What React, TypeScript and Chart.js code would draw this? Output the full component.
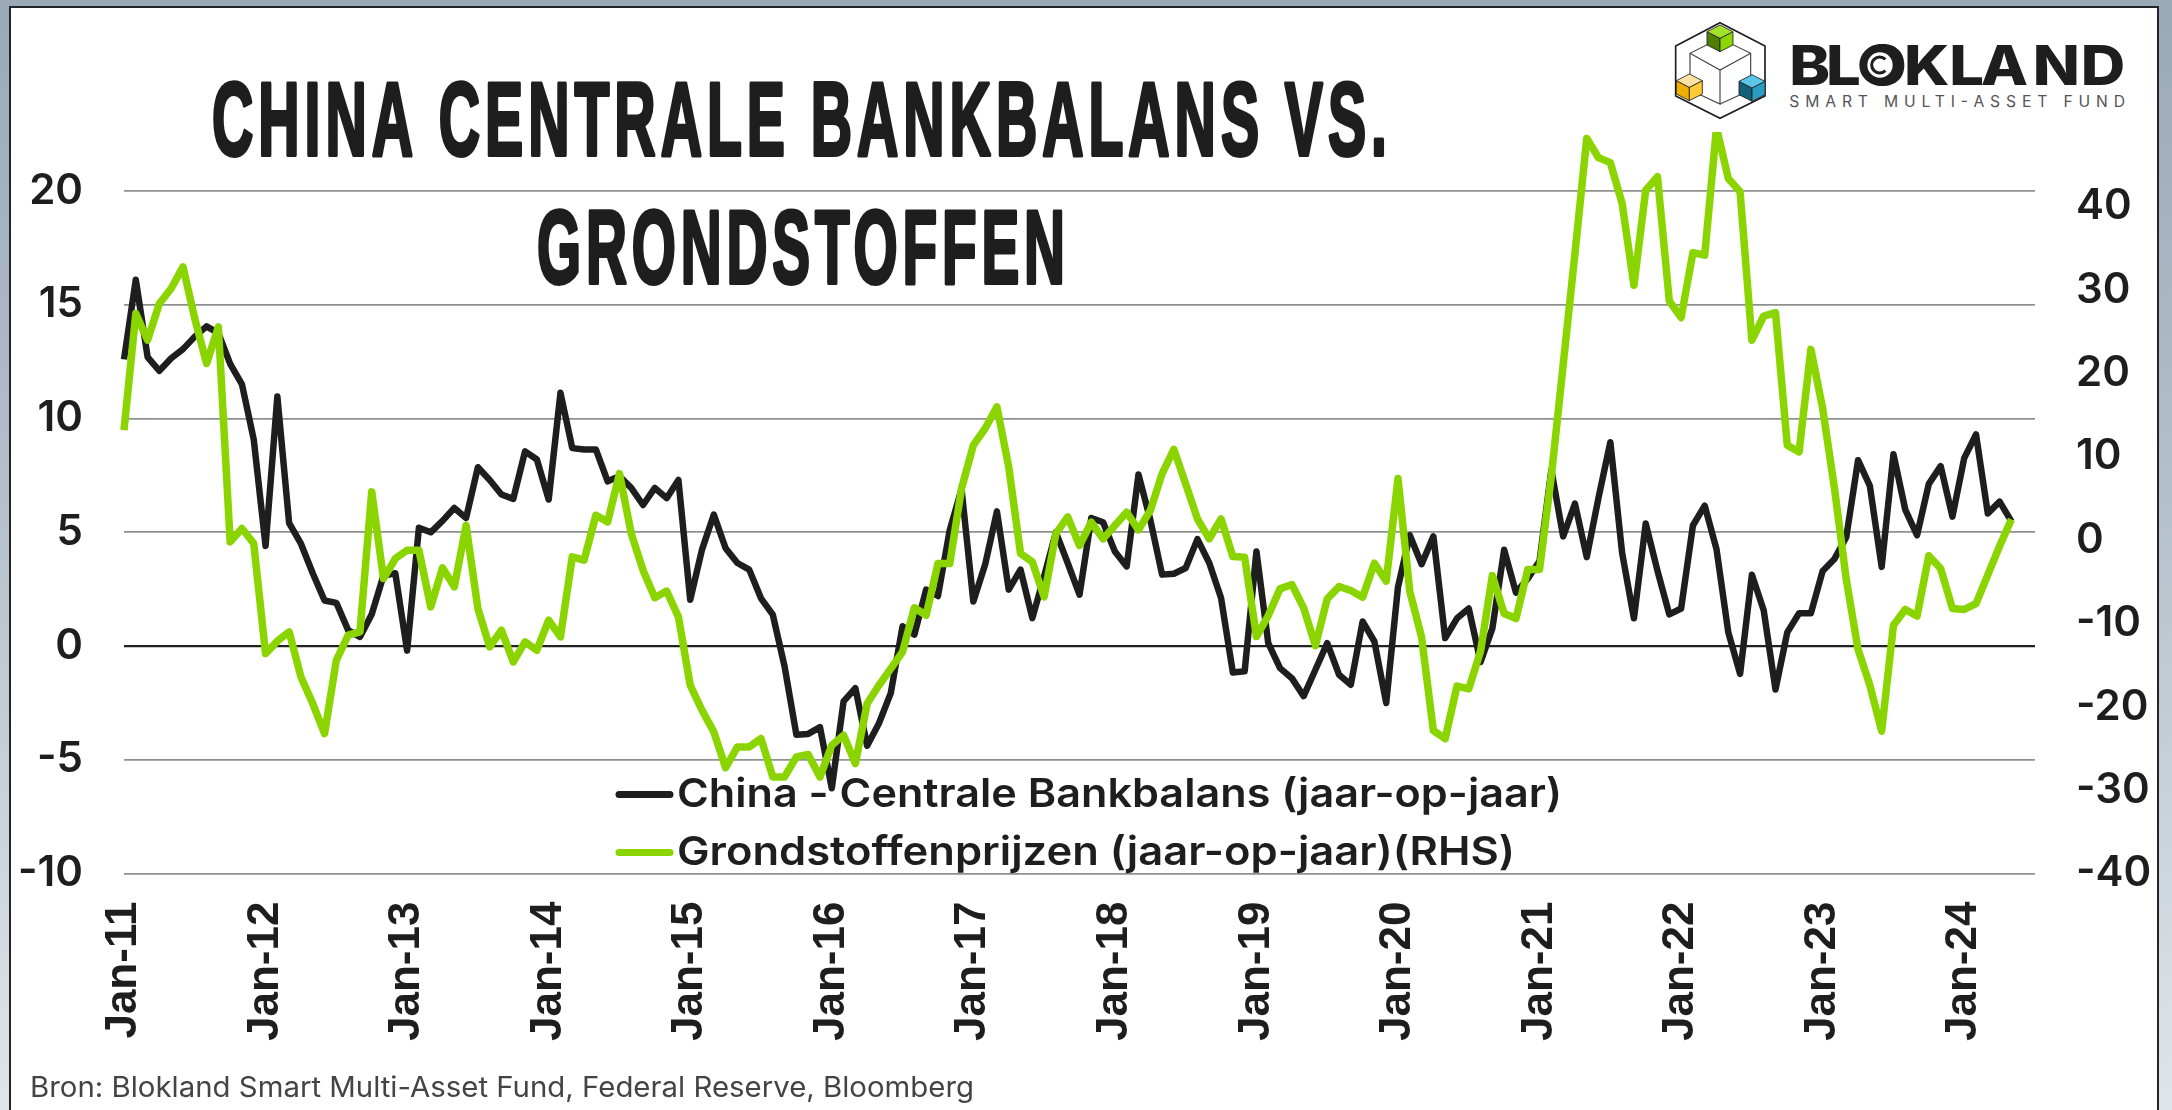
import React, { useEffect, useRef } from "react";
import { Chart, registerables } from "chart.js";

Chart.register(...registerables);

const monthNames = ["Jan", "Feb", "Mar", "Apr", "May", "Jun", "Jul", "Aug", "Sep", "Oct", "Nov", "Dec"];
const years = ["11", "12", "13", "14", "15", "16", "17", "18", "19", "20", "21", "22", "23", "24"];
const categories: string[] = years.flatMap((y) => monthNames.map((m) => `${m}-${y}`)).slice(0, 163);

const TITLE_LINES = ["CHINA CENTRALE BANKBALANS VS.", "GRONDSTOFFEN"];
const SOURCE = "Bron: Blokland Smart Multi-Asset Fund, Federal Reserve, Bloomberg";
const LABEL_BALANCE = "China - Centrale Bankbalans (jaar-op-jaar)";
const LABEL_COMMODITIES = "Grondstoffenprijzen (jaar-op-jaar)(RHS)";

const centralBankBalance: number[] = [
  12.6, 16.1, 12.7, 12.1, 12.65, 13.05, 13.6, 14.05, 13.75, 12.4, 11.5, 9.07,
  4.4, 10.97, 5.4, 4.5, 3.2, 2.0, 1.9, 0.7, 0.4, 1.4, 3.1, 3.2,
  -0.2, 5.2, 5.0, 5.5, 6.07, 5.63, 7.86, 7.3, 6.66, 6.47, 8.56, 8.2,
  6.44, 11.13, 8.7, 8.64, 8.64, 7.24, 7.46, 6.95, 6.2, 6.95, 6.5, 7.3,
  2.04, 4.24, 5.78, 4.3, 3.65, 3.36, 2.1, 1.38, -0.9, -3.9, -3.86, -3.56,
  -6.25, -2.43, -1.85, -4.38, -3.39, -2.07, 0.87, 0.5, 2.48, 2.2, 5.1, 6.9,
  1.96, 3.58, 5.92, 2.48, 3.36, 1.23, 3.06, 5.0, 3.65, 2.26, 5.63, 5.44,
  4.16, 3.5, 7.54, 5.56, 3.14, 3.18, 3.43, 4.7, 3.65, 2.11, -1.16, -1.11,
  4.16, 0.13, -0.97, -1.41, -2.2, -1.04, 0.13, -1.26, -1.7, 1.08, 0.2, -2.5,
  2.6, 4.87, 3.6, 4.82, 0.35, 1.22, 1.65, -0.7, 0.78, 4.23, 2.35, 2.96,
  3.74, 7.74, 4.82, 6.26, 3.91, 6.52, 8.96, 4.09, 1.22, 5.39, 3.3, 1.39,
  1.65, 5.3, 6.17, 4.26, 0.6, -1.22, 3.13, 1.57, -1.91, 0.6, 1.44, 1.44,
  3.3, 3.83, 4.78, 8.17, 7.04, 3.48, 8.43, 6.0, 4.87, 7.13, 7.91, 5.69,
  8.26, 9.3, 5.83, 6.35, 5.48,
];

const commodityPrices: number[] = [
  13.2, 27.2, 24, 28.4, 30.2, 32.8, 26.6, 21.2, 25.6, -0.2, 1.4, -0.4,
  -13.6, -12.1, -11, -16.4, -19.6, -23.2, -14.4, -11.4, -11, 5.8, -4.6, -2.2,
  -1.2, -1.2, -8, -3.3, -5.6, 1.76, -8.2, -12.8, -10.8, -14.6, -12.2, -13.2,
  -9.6, -11.6, -2, -2.4, 3, 2.2, 8, 0.8, -3.6, -6.9, -6.1, -9.2,
  -17.4, -20.4, -23, -27.3, -24.8, -24.8, -23.8, -28.4, -28.4, -26, -25.7, -28.4,
  -24.6, -23.4, -26.8, -19.6, -17.4, -15.4, -13.4, -8.1, -9, -2.8, -2.8, 6.2,
  11.4, 13.4, 16, 8.8, -1.6, -2.6, -6.8, 0.8, 2.8, -0.64, 2.16, 0.16,
  1.76, 3.36, 1.24, 3.56, 7.96, 10.9, 6.76, 2.56, 0.16, 2.56, -1.96, -2.04,
  -11.56, -9.04, -5.84, -5.32, -8.12, -12.64, -7.04, -5.56, -6.04, -6.84, -2.76, -4.92,
  7.4, -6.15, -11.64, -22.85, -23.8, -17.5, -17.84, -13.3, -4.25, -8.8, -9.4, -3.5,
  -3.5, 7.7, 21, 34.4, 48.2, 45.9, 45.3, 40.4, 30.6, 42, 43.6, 28.7,
  26.7, 34.5, 34.2, 49.5, 43.4, 41.8, 24, 26.9, 27.3, 11.4, 10.6, 22.9,
  15.8, 6.25, -4.7, -13.1, -17.4, -22.9, -10.2, -8.3, -9.1, -1.86, -3.4, -8.2,
  -8.3, -7.6, -4.15, -0.7, 2.5,
];

const INK = "#1e1e1e";
const GREEN = "#8ad500";

function fitted(
  ctx: CanvasRenderingContext2D,
  text: string,
  x: number,
  y: number,
  width: number,
  font: string,
  color: string,
  stroke = 0,
  spacing = 0,
) {
  ctx.save();
  ctx.font = font;
  (ctx as any).letterSpacing = `${spacing}px`;
  ctx.textAlign = "left";
  ctx.textBaseline = "alphabetic";
  const w = ctx.measureText(text).width - spacing;
  ctx.translate(x, y);
  ctx.scale(width / w, 1);
  ctx.fillStyle = color;
  ctx.fillText(text, 0, 0);
  if (stroke > 0) {
    ctx.strokeStyle = color;
    ctx.lineWidth = stroke;
    ctx.lineJoin = "round";
    ctx.strokeText(text, 0, 0);
  }
  ctx.restore();
}

const annotations = {
  id: "annotations",
  afterDraw(chart: any) {
    const ctx = chart.ctx as CanvasRenderingContext2D;
    // Title
    const titleFont = "bold 104px 'Liberation Sans'";
    fitted(ctx, TITLE_LINES[0], 212, 155, 1175, titleFont, INK, 4, 9);
    fitted(ctx, TITLE_LINES[1], 537, 283, 528, titleFont, INK, 4, 9);
    // Legend
    const rows = [
      { ds: chart.data.datasets[0], lineY: 794.5, base: 807, w: 885 },
      { ds: chart.data.datasets[1], lineY: 852.5, base: 865, w: 838 },
    ];
    for (const r of rows) {
      ctx.save();
      ctx.strokeStyle = r.ds.borderColor;
      ctx.lineWidth = 7;
      ctx.lineCap = "round";
      ctx.beginPath();
      ctx.moveTo(619, r.lineY);
      ctx.lineTo(670, r.lineY);
      ctx.stroke();
      ctx.restore();
      fitted(ctx, r.ds.label, 677, r.base, r.w, "600 40px Inter", INK);
    }
    // Source
    fitted(ctx, SOURCE, 30, 1097, 944, "400 28px Inter", "#444444");
  },
};

function Logo() {
  const cube = (cx: number, top: number, c: string[]) => {
    const hw = 39;
    const d = 20;
    const h = 40;
    return (
      <g stroke="#1e1e1e" strokeWidth={2.5} strokeLinejoin="round">
        <polygon points={`${cx - hw},${top + d} ${cx},${top + 2 * d} ${cx},${top + 2 * d + h} ${cx - hw},${top + d + h}`} fill={c[1]} />
        <polygon points={`${cx + hw},${top + d} ${cx},${top + 2 * d} ${cx},${top + 2 * d + h} ${cx + hw},${top + d + h}`} fill={c[2]} />
        <polygon points={`${cx},${top} ${cx + hw},${top + d} ${cx},${top + 2 * d} ${cx - hw},${top + d}`} fill={c[0]} />
      </g>
    );
  };
  const wide = 1.12;
  const glyphX = [388, 498, 598, 732, 868, 962, 1118, 1262].map((v) => (v / wide).toFixed(1)).join(" ");
  return (
    <svg width={2172} height={1110} style={{ position: "absolute", left: 0, top: 0, pointerEvents: "none" }}>
      <rect x={1668} y={10} width={470} height={122} fill="#ffffff" />
      <g transform="translate(1660 10) scale(0.33333)">
        <polygon points="180,38 315,108 315,258 180,325 47,258 47,108" fill="#ffffff" stroke="#1e1e1e" strokeWidth={5} />
        <g fill="none" stroke="#444444" strokeWidth={3.5}>
          <polyline points="90,205 90,130 180,85 272,130 272,205" />
          <polyline points="90,130 180,180 272,130" />
          <polyline points="180,180 180,282 90,240" />
          <line x1={180} y1={282} x2={272} y2={240} />
        </g>
        {cube(180, 45, ["#a3e22a", "#4e7f00", "#8cd600"])}
        {cube(88, 192, ["#ffe2a3", "#f0ae00", "#ffca33"])}
        {cube(276, 194, ["#5cc6e8", "#155f79", "#2b9dc5"])}
        <g transform={`scale(${wide} 1)`}>
          <text x={glyphX} y={225} fontFamily="Inter" fontWeight={800} fontSize={165} fill="#1e1e1e">
            BLOKLAND
          </text>
        </g>
        <circle cx={660} cy={165} r={50} fill="#ffffff" stroke="#1e1e1e" strokeWidth={24} />
        <path d="M 676 148 A 24 24 0 1 0 676 182" fill="none" stroke="#1e1e1e" strokeWidth={9} />
        <text x={388} y={292} fontFamily="Inter" fontWeight={400} fontSize={47} fill="#555555" textLength={1007} lengthAdjust="spacing">
          SMART MULTI-ASSET FUND
        </text>
      </g>
    </svg>
  );
}

export default function App() {
  const ref = useRef<HTMLCanvasElement | null>(null);
  useEffect(() => {
    if (!ref.current) return;
    const tickFont = { family: "Inter", weight: "600", size: 42 };
    const chart = new Chart(ref.current, {
      type: "line",
      data: {
        labels: categories,
        datasets: [
          {
            label: LABEL_BALANCE,
            data: centralBankBalance,
            borderColor: INK,
            borderWidth: 6.5,
            yAxisID: "y",
            order: 2,
            clip: false,
          },
          {
            label: LABEL_COMMODITIES,
            data: commodityPrices,
            borderColor: GREEN,
            borderWidth: 7.5,
            yAxisID: "y2",
            order: 1,
            clip: false,
          },
        ],
      } as any,
      plugins: [annotations],
      options: {
        animation: false,
        responsive: false,
        maintainAspectRatio: false,
        layout: { padding: { top: 191, left: 0, right: 0, bottom: 0 } },
        elements: {
          point: { radius: 0 },
          line: { tension: 0, borderJoinStyle: "round", borderCapStyle: "butt" },
        },
        plugins: { legend: { display: false }, tooltip: { enabled: false }, title: { display: false } },
        scales: {
          x: {
            type: "category",
            offset: false,
            afterFit: (s: any) => {
              s.height = 236.4;
            },
            grid: { display: false, drawTicks: false },
            border: { display: false },
            ticks: {
              autoSkip: false,
              minRotation: 90,
              maxRotation: 90,
              padding: 28,
              color: INK,
              font: { family: "'Liberation Sans'", weight: "bold", size: 44 },
              callback(this: any, _v: any, i: number) {
                return i % 12 === 0 ? categories[i] : null;
              },
            },
          },
          y: {
            position: "left",
            min: -10,
            max: 20,
            afterFit: (s: any) => {
              s.width = 124;
            },
            grid: {
              drawTicks: false,
              lineWidth: (c: any) => (c.tick.value === 0 ? 2.2 : 1.8),
              color: (c: any) => (c.tick.value === 0 ? "#222222" : "#909090"),
            },
            border: { display: false },
            ticks: { stepSize: 5, padding: 41, color: INK, font: tickFont },
          },
          y2: {
            position: "right",
            min: -40,
            max: 41.9,
            afterFit: (s: any) => {
              s.width = 137;
            },
            grid: { display: false, drawTicks: false },
            border: { display: false },
            ticks: { stepSize: 10, includeBounds: false, padding: 41, color: INK, font: tickFont },
          },
        },
      },
    } as any);
    return () => chart.destroy();
  }, []);
  return (
    <div
      style={{
        position: "absolute",
        left: 0,
        top: 0,
        width: 2172,
        height: 1110,
        overflow: "hidden",
        background: "linear-gradient(to bottom, #9aa9b8 0%, #b4c0ca 45%, #dfe5ea 100%)",
      }}
    >
      <div
        style={{
          position: "absolute",
          left: 9,
          top: 6,
          width: 2146,
          height: 1200,
          background: "#ffffff",
          border: "2.5px solid #22262a",
          boxSizing: "content-box",
        }}
      />
      <canvas ref={ref} width={2172} height={1110} style={{ position: "absolute", left: 0, top: 0 }} />
      <Logo />
    </div>
  );
}
